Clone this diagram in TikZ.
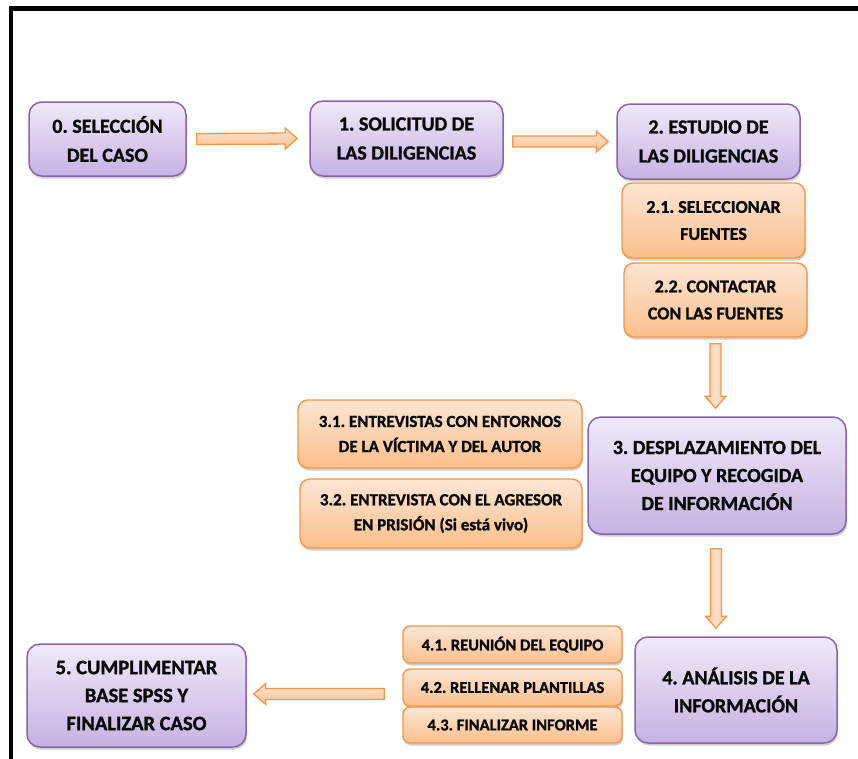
\documentclass[tikz,border=0pt]{standalone}
\usepackage{fontspec}
\setmainfont{Carlito}[BoldFeatures={FakeBold=1.3}]
\frenchspacing
\usetikzlibrary{calc,shadows}
\definecolor{pborder}{HTML}{8566AE}
\definecolor{ptop}{HTML}{EFEAF8}
\definecolor{pbot}{HTML}{C7B2E2}
\definecolor{oborder}{HTML}{F79646}
\definecolor{otop}{HTML}{FDE6D4}
\definecolor{obot}{HTML}{FABF8C}
\definecolor{atop}{HTML}{FDE2CB}
\definecolor{abot}{HTML}{FAC497}
\definecolor{txt}{HTML}{0A0A0A}
\tikzset{
  purplebox/.style={draw=pborder, line width=1.5pt, rounded corners=13pt,
    top color=ptop, bottom color=pbot, align=center, text=txt,
    inner sep=0pt, font=\bfseries\fontsize{20}{29}\selectfont,
    drop shadow={shadow xshift=1pt, shadow yshift=-2.5pt, opacity=0.3, fill=black!60}},
  orangebox/.style={draw=oborder, line width=1.4pt, rounded corners=10pt,
    top color=otop, bottom color=obot, align=center, text=txt,
    inner sep=0pt, font=\bfseries\fontsize{17}{25}\selectfont,
    drop shadow={shadow xshift=1pt, shadow yshift=-2.5pt, opacity=0.3, fill=black!60}},
  barrow/.style={draw=oborder, line width=1.3pt, line join=miter,
    top color=atop, bottom color=abot},
  varrow/.style={draw=oborder, line width=1.3pt, line join=miter,
    left color=abot, right color=abot, middle color=atop},
}
% block arrow from #2 to #3
\newcommand\blockarr[3][barrow]{%
  \coordinate (hb) at ($(#3)!12pt!(#2)$);
  \draw[#1] ($(#2)!5.5pt!90:(#3)$) -- ($(hb)!5.5pt!90:(#3)$) -- ($(hb)!10.5pt!90:(#3)$)
    -- (#3) -- ($(hb)!10.5pt!-90:(#3)$) -- ($(hb)!5.5pt!-90:(#3)$)
    -- ($(#2)!5.5pt!-90:(#3)$) -- cycle;
}
\begin{document}
\begin{tikzpicture}[x=1pt,y=-1pt]
\clip (0,0) rectangle (858,758);
\useasboundingbox (0,0) rectangle (858,758);
\fill[white] (0,0) rectangle (858,758);
\draw[line width=4.8pt] (11,780) -- (11,8.5) -- (880,8.5);

% main steps
\node[purplebox, minimum width=157pt, minimum height=74pt] (b0) at (107.5,139) {0. SELECCIÓN\\DEL CASO};
\node[purplebox, minimum width=193pt, minimum height=75pt] (b1) at (406.5,138.5) {1. SOLICITUD DE\\LAS DILIGENCIAS};
\node[purplebox, minimum width=183pt, minimum height=75pt] (b2) at (708.5,141.5) {2. ESTUDIO DE\\LAS DILIGENCIAS};
\node[orangebox, font=\bfseries\fontsize{18}{27}\selectfont, minimum width=183pt, minimum height=75pt] (b21) at (713.5,220.5) {2.1. SELECCIONAR\\FUENTES};
\node[orangebox, font=\bfseries\fontsize{18}{27}\selectfont, minimum width=183pt, minimum height=74pt] (b22) at (715.5,300) {2.2. CONTACTAR\\CON LAS FUENTES};

\node[purplebox, font=\bfseries\fontsize{20}{28}\selectfont, minimum width=258pt, minimum height=117pt] (b3) at (717,475.5) {3. DESPLAZAMIENTO DEL\\EQUIPO Y RECOGIDA\\DE INFORMACIÓN};
\node[orangebox, minimum width=284pt, minimum height=68pt] (b31) at (440,434) {3.1. ENTREVISTAS CON ENTORNOS\\DE LA VÍCTIMA Y DEL AUTOR};
\node[orangebox, minimum width=282pt, minimum height=69pt] (b32) at (441,513.5) {3.2. ENTREVISTA CON EL AGRESOR\\EN PRISIÓN (Si está vivo)};

\node[purplebox, font=\bfseries\fontsize{20}{28}\selectfont, minimum width=202pt, minimum height=106pt] (b4) at (736,690) {4. ANÁLISIS DE LA\\INFORMACIÓN};
\node[orangebox, font=\bfseries\fontsize{16.5}{20}\selectfont, rounded corners=7pt, minimum width=219pt, minimum height=37pt] (b41) at (512.5,644.5) {4.1. REUNIÓN DEL EQUIPO};
\node[orangebox, font=\bfseries\fontsize{16.5}{20}\selectfont, rounded corners=7pt, minimum width=219pt, minimum height=37pt] (b42) at (512.5,687.5) {4.2. RELLENAR PLANTILLAS};
\node[orangebox, font=\bfseries\fontsize{16.5}{20}\selectfont, rounded corners=7pt, minimum width=219pt, minimum height=36pt] (b43) at (512.5,725) {4.3. FINALIZAR INFORME};

\node[purplebox, minimum width=219pt, minimum height=103pt, font=\bfseries\fontsize{20.5}{28}\selectfont] (b5) at (136.5,695.5) {5. CUMPLIMENTAR\\BASE SPSS Y\\FINALIZAR CASO};

% connectors
\coordinate (a01s) at ($(b0.east)+(10,0)$);
\coordinate (a01e) at ($(b1.west)+(-12,0)$);
\blockarr{a01s}{a01e}
\coordinate (a12s) at ($(b1.east |- b2.east)+(9,0)$);
\coordinate (a12e) at ($(b2.west)+(-8,0)$);
\blockarr{a12s}{a12e}
\coordinate (a23s) at ($(b22.south)+(0,6)$);
\coordinate (a23e) at ($(b22.south |- b3.north)+(0,-8)$);
\blockarr[varrow]{a23s}{a23e}
\coordinate (a34s) at ($(b22.south |- b3.south)+(0.5,14)$);
\coordinate (a34e) at ($(b22.south |- b4.north)+(0.5,-8)$);
\blockarr[varrow]{a34s}{a34e}
\coordinate (a45s) at ($(b41.west |- b5.east)+(-18,-1.5)$);
\coordinate (a45e) at ($(b5.east)+(7,-1.5)$);
\blockarr{a45s}{a45e}
\end{tikzpicture}
\end{document}
